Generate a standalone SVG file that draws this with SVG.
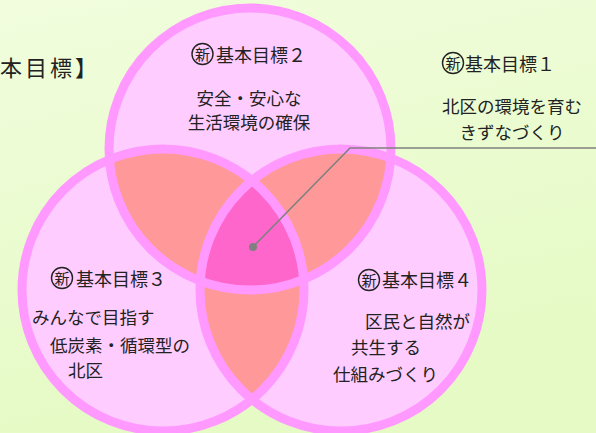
<svg xmlns="http://www.w3.org/2000/svg" width="596" height="433" viewBox="0 0 596 433">
<defs>
<linearGradient id="bg" x1="0" y1="0" x2="0.3" y2="1">
<stop offset="0" stop-color="#F1FDDD"/>
<stop offset="1" stop-color="#E5FAC4"/>
</linearGradient>
<clipPath id="cT"><circle cx="250" cy="149" r="141"/></clipPath>
<clipPath id="cL"><circle cx="163" cy="290" r="141"/></clipPath>
<clipPath id="cR"><circle cx="341" cy="290" r="141"/></clipPath>
<style>
.fill{fill:#FFCCFF}
.pair{fill:#FF9999}
.tri{fill:#FF66CC}
.ring{fill:none;stroke:#FF99FF;stroke-width:9}
text{font-family:"Noto Sans CJK JP","Noto Sans CJK SC",sans-serif;fill:#222}
.h{font-size:18px}
.b{font-size:17.5px}
.mk{fill:none;stroke:#222;stroke-width:1.4}
.mt{font-size:15px;text-anchor:middle}
.conn{stroke:#808080;stroke-width:1.6;fill:none}
</style>
</defs>
<rect width="596" height="433" fill="url(#bg)"/>
<text x="0" y="76" style="font-size:22px;letter-spacing:3px">本目標】</text>
<g id="venn">
<circle class="fill" cx="250" cy="149" r="141"/>
<circle class="fill" cx="163" cy="290" r="141"/>
<circle class="fill" cx="341" cy="290" r="141"/>
<g clip-path="url(#cT)"><circle class="pair" cx="163" cy="290" r="141"/><circle class="pair" cx="341" cy="290" r="141"/></g>
<g clip-path="url(#cL)"><circle class="pair" cx="341" cy="290" r="141"/></g>
<g clip-path="url(#cT)"><g clip-path="url(#cL)"><circle class="tri" cx="341" cy="290" r="141"/></g></g>
<circle class="ring" cx="250" cy="149" r="141"/>
<circle class="ring" cx="163" cy="290" r="141"/>
<circle class="ring" cx="341" cy="290" r="141"/>
</g>
<g id="connectors">
<polyline class="conn" points="253,247 350,148 596,148"/>
<circle cx="253" cy="247" r="4" fill="#808080"/>
</g>
<g id="goal1">
<circle class="mk" cx="453" cy="63" r="10.5"/>
<text class="mt" x="453" y="68.5">新</text>
<text class="h" x="465" y="71">基本目標１</text>
<text class="b" x="512" y="113" text-anchor="middle">北区の環境を育む</text>
<text class="b" x="512" y="139" text-anchor="middle">きずなづくり</text>
</g>
<g id="goal2">
<circle class="mk" cx="202.5" cy="54" r="10.5"/>
<text class="mt" x="202.5" y="59.5">新</text>
<text class="h" x="216" y="62">基本目標２</text>
<text class="b" x="249" y="105" text-anchor="middle">安全・安心な</text>
<text class="b" x="249" y="129" text-anchor="middle">生活環境の確保</text>
</g>
<g id="goal3">
<circle class="mk" cx="62" cy="278" r="10.5"/>
<text class="mt" x="62" y="283.5">新</text>
<text class="h" x="76" y="286">基本目標３</text>
<text class="b" x="32" y="324">みんなで目指す</text>
<text class="b" x="50" y="352">低炭素・循環型の</text>
<text class="b" x="68" y="377">北区</text>
</g>
<g id="goal4">
<circle class="mk" cx="369" cy="280" r="10.5"/>
<text class="mt" x="369" y="285.5">新</text>
<text class="h" x="382" y="287">基本目標４</text>
<text class="b" x="365" y="328">区民と自然が</text>
<text class="b" x="351" y="354">共生する</text>
<text class="b" x="333" y="381">仕組みづくり</text>
</g>
</svg>
